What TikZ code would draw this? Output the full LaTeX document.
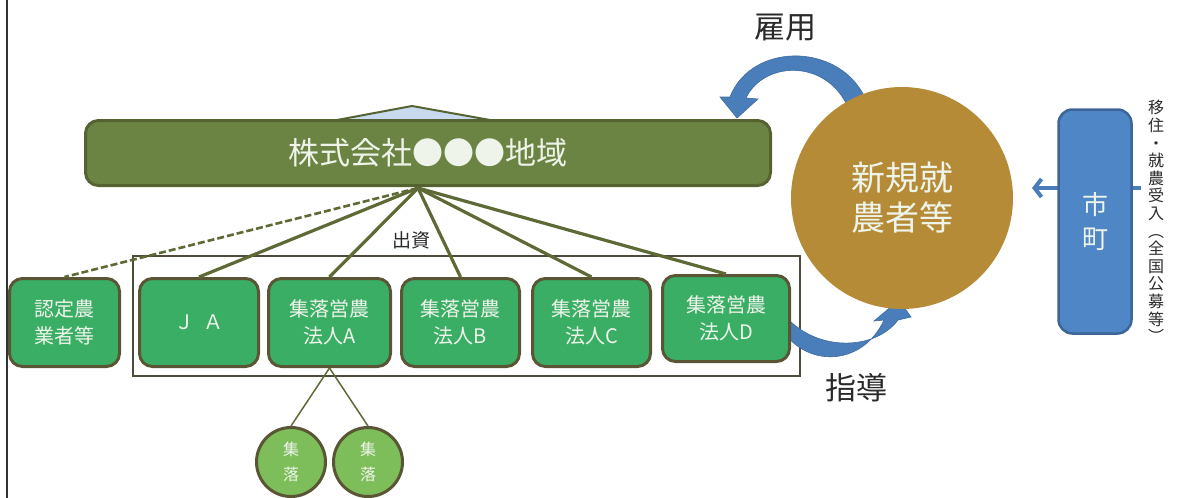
\documentclass[tikz,border=0pt]{standalone}
\usepackage{fontspec}
\setmainfont{Noto Sans CJK JP}
\usetikzlibrary{arrows.meta,shapes.geometric}
\definecolor{boxfill}{HTML}{3BAE66}
\definecolor{boxline}{HTML}{5A5535}
\definecolor{barfill}{HTML}{6C8443}
\definecolor{barline}{HTML}{556331}
\definecolor{linkcol}{HTML}{5E6A35}
\definecolor{framecol}{HTML}{4E4B3C}
\definecolor{goldfill}{HTML}{B68B37}
\definecolor{bluefill}{HTML}{4F86C6}
\definecolor{blueline}{HTML}{3C6698}
\definecolor{arrowblue}{HTML}{4A7EBB}
\definecolor{arrowedge}{HTML}{3E6A9E}
\definecolor{smallgreen}{HTML}{7DBE5B}
\definecolor{txtdark}{HTML}{2A2A2A}
\definecolor{tricol}{HTML}{C9DAF0}
\definecolor{softwhite}{HTML}{EEF4EA}
\begin{document}
\begin{tikzpicture}[x=1pt,y=-1pt,
  gbox/.style={draw=boxline, line width=3pt, fill=boxfill, rounded corners=13pt,
    minimum height=88pt, text=softwhite, font=\fontsize{20}{27}\selectfont,
    align=center, inner sep=0pt},
  smallc/.style={circle, draw=boxline, line width=3pt, fill=smallgreen,
    minimum size=69pt, inner sep=0pt, text=softwhite, align=center,
    font=\fontsize{16}{25}\selectfont},
  hubline/.style={draw=linkcol, line width=3.2pt},
  subline/.style={draw=linkcol, line width=1.5pt},
  lbl/.style={text=txtdark, inner sep=0pt}
]
\useasboundingbox (0,0) rectangle (1179,498);

% left border
\draw[line width=2.5pt, draw=black!80] (7,0) -- (7,498);

% small triangle on top of the bar
\filldraw[fill=tricol, draw=barline, line width=2pt] (337,120) -- (412,106) -- (490,120) -- cycle;

% hub coordinate under the bar
\coordinate (hub) at (418,188);

% group frame
\node[draw=framecol, line width=2.5pt, minimum width=667pt, minimum height=120pt, inner sep=0pt] (grp) at (466.5,316) {};

% boxes
\node[gbox, minimum width=110pt] (nintei) at (64.5,322.5) {認定農\\業者等};
\node[gbox, minimum width=119pt] (ja) at (199,322.5) {Ｊ\hspace{9pt}Ａ};
\node[gbox, minimum width=122pt] (hA) at (329.5,322.5) {集落営農\\法人A};
\node[gbox, minimum width=118pt] (hB) at (460.5,322.5) {集落営農\\法人B};
\node[gbox, minimum width=118pt] (hC) at (591.5,322.5) {集落営農\\法人C};

% 指導 arrow (start hidden under box D)
\filldraw[fill=arrowblue, draw=arrowedge, line width=0.6pt]
  (780,326) .. controls (803,368) and (862,368) .. (884,320)
  -- (874,321) -- (899,300) -- (911,317) -- (898,320)
  .. controls (874,352) and (812,352) .. (782,312) -- cycle;

\node[gbox, minimum width=127pt, minimum height=86pt] (hD) at (726,318.5) {集落営農\\法人D};

% hub lines
\draw[hubline, dash pattern=on 7pt off 3pt, line width=2.6pt] (hub) -- (nintei.north);
\draw[hubline] (hub) -- (ja.north);
\draw[hubline] (hub) -- (hA.north);
\draw[hubline] (hub) -- (hB.north);
\draw[hubline] (hub) -- (hC.north);
\draw[hubline] (hub) -- (hD.north);

% bar
\node[draw=barline, line width=3pt, fill=barfill, rounded corners=13pt,
  minimum width=685pt, minimum height=65pt, inner sep=0pt,
  text=softwhite, font=\fontsize{31}{31}\selectfont] (corp) at (428,153) {株式会社●●●地域};

\node[lbl, font=\fontsize{19}{19}\selectfont] (shushi) at (411,240) {出資};

% small circles
\node[smallc] (s1) at (291,462) {集\\落};
\node[smallc] (s2) at (368,462) {集\\落};
\draw[subline] (hA.south) -- (s1.north);
\draw[subline] (hA.south) -- (s2.north);

% 雇用 arrow (right end hidden under circle)
\filldraw[fill=arrowblue, draw=arrowedge, line width=0.6pt]
  (868,105) .. controls (846,42) and (752,40) .. (730,97)
  -- (720,97) -- (737,118) -- (758,99) -- (746,98)
  .. controls (764,60) and (830,58) .. (850,112) -- cycle;

% new farmers circle
\node[circle, fill=goldfill, minimum size=222pt, inner sep=0pt, text=softwhite,
  align=center, font=\fontsize{34}{40}\selectfont] (newf) at (902,198) {新規就\\農者等};

% 市町 arrow and box
\coordinate (mstub) at (1141,188);
\coordinate (mtip) at (1032,188);
\draw[draw=arrowblue, line width=4pt, -{Straight Barb[length=7pt,width=18pt]}] (mstub) -- (mtip);
\node[draw=blueline, line width=2.5pt, fill=bluefill, rounded corners=14pt,
  minimum width=73pt, minimum height=224pt, inner sep=0pt, text=softwhite, align=center,
  font=\fontsize{26}{34}\selectfont] (machi) at (1095,221.5) {市\\町};

% vertical note
\node[lbl, align=center, font=\fontsize{16}{17.6}\selectfont] (note) at (1156,221.5)
  {移\\住\\・\\就\\農\\受\\入\\︵\\全\\国\\公\\募\\等\\︶};

% labels
\node[lbl, font=\fontsize{31}{31}\selectfont] (koyo) at (785,28) {雇用};
\node[lbl, font=\fontsize{31}{31}\selectfont] (shido) at (856,388) {指導};
\end{tikzpicture}
\end{document}
